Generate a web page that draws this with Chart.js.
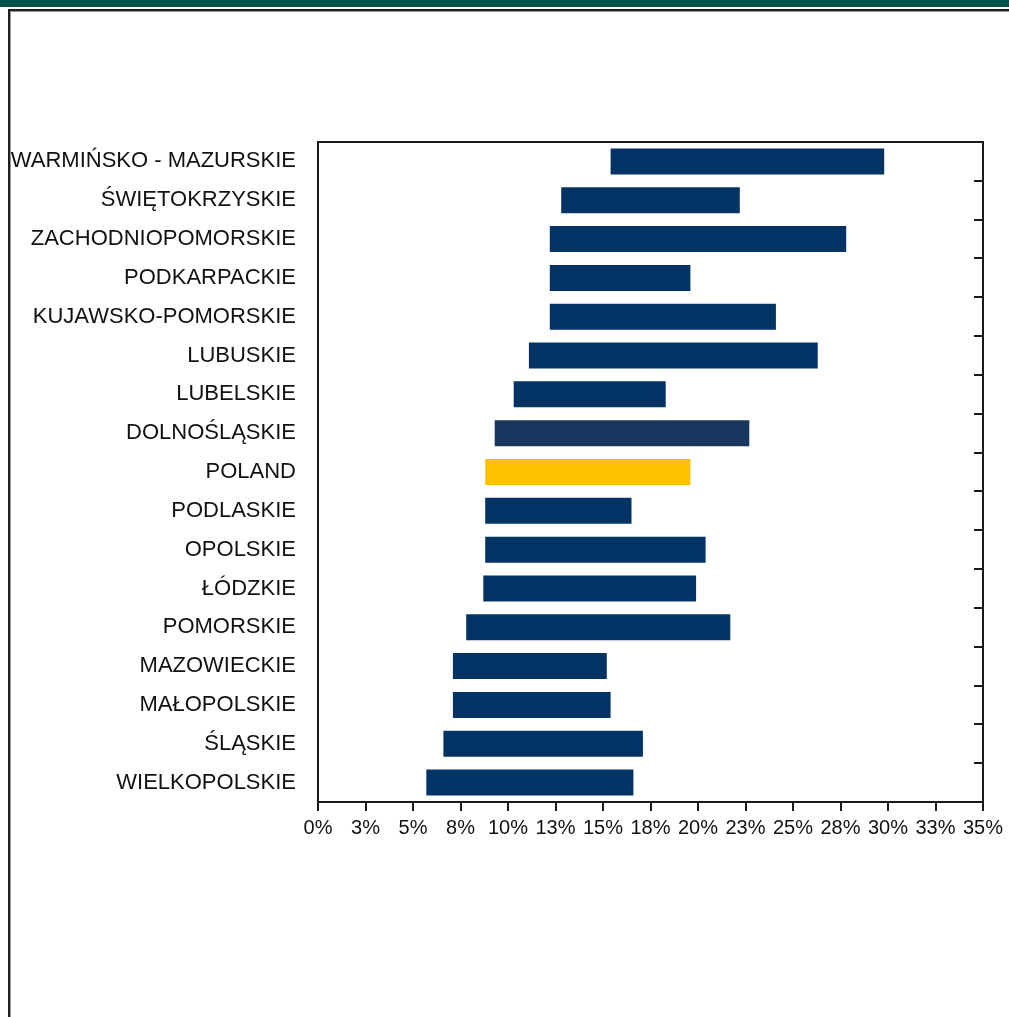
<!DOCTYPE html>
<html>
<head>
<meta charset="utf-8">
<script src="https://cdn.jsdelivr.net/npm/chart.js@4"></script>
<style>
  html, body { margin: 0; padding: 0; background: #fff; }
  body { width: 1009px; height: 1017px; position: relative; overflow: hidden; }
  #topbar { position: absolute; left: 0; top: 0; width: 1009px; height: 7px; background: #03534d; }
  #frame { position: absolute; left: 8px; top: 9px; width: 1100px; height: 1100px;
           border-top: 2px solid #1e1e1e; border-left: 2px solid #1e1e1e;
           box-shadow: inset 1px 1px 0 #9a9a9a; }
  #wrap { position: absolute; left: 0; top: 0; width: 1009px; height: 1017px; }
</style>
</head>
<body>
<div id="topbar"></div>
<div id="frame"></div>
<div id="wrap"><canvas id="c" width="1009" height="1017"></canvas></div>
<script>
const categories = [
  'WARMIŃSKO - MAZURSKIE', 'ŚWIĘTOKRZYSKIE', 'ZACHODNIOPOMORSKIE', 'PODKARPACKIE',
  'KUJAWSKO-POMORSKIE', 'LUBUSKIE', 'LUBELSKIE', 'DOLNOŚLĄSKIE', 'POLAND',
  'PODLASKIE', 'OPOLSKIE', 'ŁÓDZKIE', 'POMORSKIE', 'MAZOWIECKIE',
  'MAŁOPOLSKIE', 'ŚLĄSKIE', 'WIELKOPOLSKIE'
];
const lowValues  = [15.4, 12.8, 12.2, 12.2, 12.2, 11.1, 10.3, 9.3, 8.8, 8.8, 8.8, 8.7, 7.8, 7.1, 7.1, 6.6, 5.7];
const highValues = [29.8, 22.2, 27.8, 19.6, 24.1, 26.3, 18.3, 22.7, 19.6, 16.5, 20.4, 19.9, 21.7, 15.2, 15.4, 17.1, 16.6];
const xTickLabels = ['0%','3%','5%','8%','10%','13%','15%','18%','20%','23%','25%','28%','30%','33%','35%'];

const specialColors = { 'POLAND': '#ffc000', 'DOLNOŚLĄSKIE': '#19375e' };
const baseColor = '#023364';
const barColors = categories.map(c => specialColors[c] || baseColor);

const FONT = "'Liberation Sans', Arial, sans-serif";
const AXIS = '#1a1a1a';

new Chart(document.getElementById('c'), {
  type: 'bar',
  data: {
    labels: categories,
    datasets: [{
      data: categories.map((c, i) => [lowValues[i], highValues[i]]),
      backgroundColor: barColors,
      borderWidth: 0,
      categoryPercentage: 0.67,
      barPercentage: 1.0,
      yAxisID: 'y',
      xAxisID: 'x'
    }]
  },
  options: {
    indexAxis: 'y',
    responsive: false,
    animation: false,
    events: [],
    layout: { padding: 0 },
    plugins: { legend: { display: false }, tooltip: { enabled: false }, title: { display: false } },
    scales: {
      x: {
        type: 'linear', position: 'bottom', min: 0, max: 35,
        afterBuildTicks: s => { s.ticks = xTickLabels.map((l, i) => ({ value: i * 2.5 })); },
        ticks: {
          autoSkip: false, maxRotation: 0, minRotation: 0, padding: 5,
          color: '#111', font: { family: FONT, size: 20 },
          callback: (v, i) => xTickLabels[i]
        },
        grid: { display: true, drawOnChartArea: false, drawTicks: true, tickLength: 9, color: AXIS, lineWidth: 2 },
        border: { display: true, color: AXIS, width: 2 },
        afterFit: s => { s.height = 1017 - 802; }
      },
      xTop: {
        type: 'linear', position: 'top', min: 0, max: 35,
        ticks: { display: false },
        grid: { display: false, drawTicks: false },
        border: { display: true, color: AXIS, width: 2 },
        afterFit: s => { s.height = 142; }
      },
      y: {
        type: 'category', position: 'left', offset: true,
        ticks: { padding: 22, color: '#111', font: { family: FONT, size: 22 }, autoSkip: false },
        grid: { display: false, drawTicks: false, offset: true },
        border: { display: true, color: AXIS, width: 2 },
        afterFit: s => { s.width = 318; }
      },
      yRight: {
        type: 'category', position: 'right', offset: true, labels: categories,
        ticks: { display: false },
        grid: { display: true, offset: true, drawOnChartArea: false, drawTicks: true, tickLength: -9, color: AXIS, lineWidth: 2 },
        border: { display: true, color: AXIS, width: 2 },
        afterFit: s => { s.width = 1009 - 983; }
      }
    }
  }
});
</script>
</body>
</html>
